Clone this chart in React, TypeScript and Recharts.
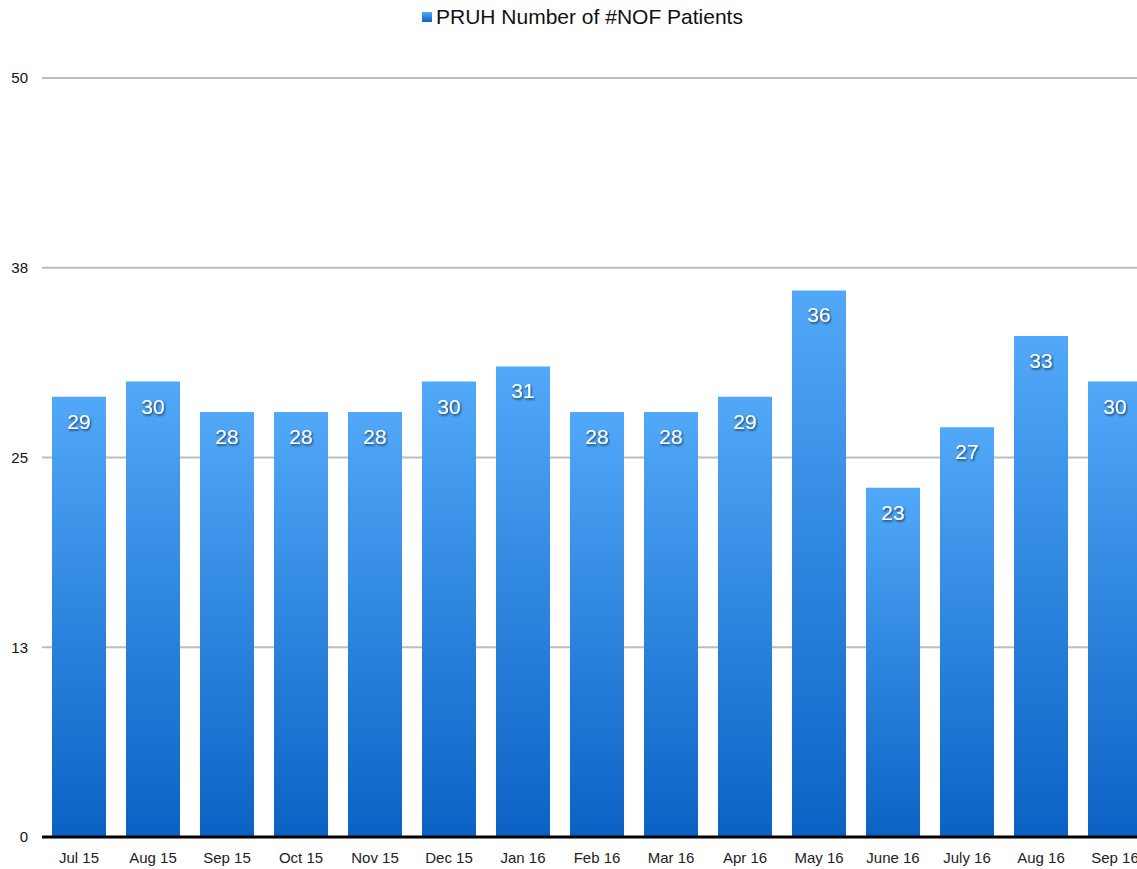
import React from 'react'
import { BarChart, Bar, XAxis, YAxis, CartesianGrid, LabelList } from 'recharts'

const months = [
  'Jul 15', 'Aug 15', 'Sep 15', 'Oct 15', 'Nov 15', 'Dec 15', 'Jan 16', 'Feb 16',
  'Mar 16', 'Apr 16', 'May 16', 'June 16', 'July 16', 'Aug 16', 'Sep 16',
]
const patients = [29, 30, 28, 28, 28, 30, 31, 28, 28, 29, 36, 23, 27, 33, 30]
const yTicks = [0, 12.5, 25, 37.5, 50]
const seriesName = 'PRUH Number of #NOF Patients'

const data = months.map((m, i) => ({ month: m, value: patients[i] }))

const font = '"Liberation Sans", Arial, sans-serif'

export default function App() {
  return (
    <div
      style={{
        position: 'fixed',
        left: 0,
        top: 0,
        width: 1137,
        height: 869,
        overflow: 'hidden',
        background: '#fff',
        fontFamily: font,
      }}
    >
      {/* legend */}
      <div
        style={{
          position: 'absolute',
          left: 422,
          top: 5,
          display: 'flex',
          alignItems: 'center',
          gap: 4,
          fontSize: 21,
          lineHeight: '24px',
          color: '#111',
          whiteSpace: 'nowrap',
        }}
      >
        <span
          style={{
            width: 10,
            height: 10,
            background: 'linear-gradient(#52a8f8, #0b62c4)',
            display: 'inline-block',
          }}
        />
        <span>{seriesName}</span>
      </div>

      <BarChart
        width={1170}
        height={869}
        data={data}
        margin={{ top: 78, right: 18, left: 0, bottom: 2 }}
      >
        <defs>
          <linearGradient id="barFill" x1="0" y1="0" x2="0" y2="1">
            <stop offset="0%" stopColor="#52a8f8" />
            <stop offset="100%" stopColor="#0b62c4" />
          </linearGradient>
          <filter id="labelShadow" x="-30%" y="-30%" width="160%" height="160%">
            <feDropShadow dx="1" dy="1.5" stdDeviation="0.8" floodColor="#000" floodOpacity="0.65" />
          </filter>
        </defs>
        <CartesianGrid vertical={false} stroke="#bdbdbd" strokeWidth={2} />
        <XAxis
          dataKey="month"
          tickLine={false}
          axisLine={{ stroke: '#000', strokeWidth: 3 }}
          tick={{ fill: '#222', fontSize: 15, fontFamily: font }}
          tickMargin={9}
          height={30}
          interval={0}
        />
        <YAxis
          domain={[0, 50]}
          ticks={yTicks}
          tickFormatter={(v) => String(Math.round(v))}
          tickLine={false}
          axisLine={false}
          tick={{ fill: '#111', fontSize: 15, fontFamily: font }}
          tickMargin={8}
          width={42}
        />
        <Bar dataKey="value" fill="url(#barFill)" barSize={54} isAnimationActive={false}>
          <LabelList
            dataKey="value"
            position="insideTop"
            offset={17}
            fill="#fff"
            fontSize={21}
            fontFamily={font}
            filter="url(#labelShadow)"
          />
        </Bar>
      </BarChart>
    </div>
  )
}
